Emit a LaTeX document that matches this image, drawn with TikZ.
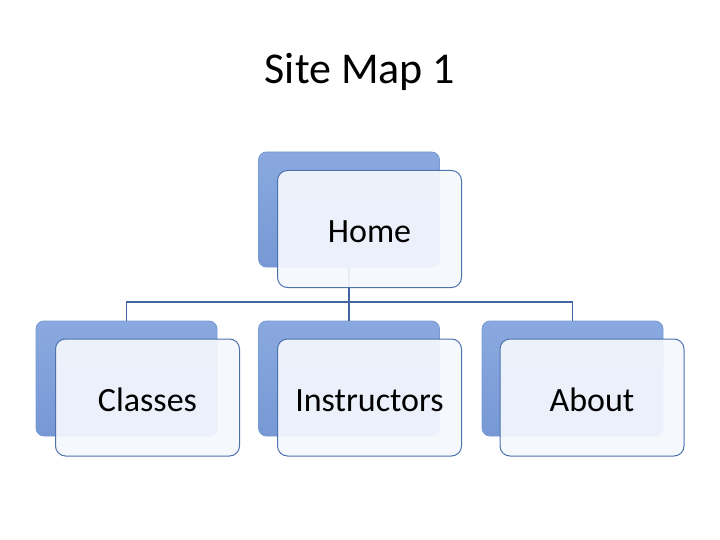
\documentclass[tikz,border=0pt]{standalone}
\usepackage{fontspec}
\setmainfont{Carlito}
\definecolor{backtop}{HTML}{8AA9E0}
\definecolor{backbot}{HTML}{7698D4}
\definecolor{backedge}{HTML}{7899D3}
\definecolor{frontfill}{HTML}{F4F7FD}
\definecolor{frontedge}{HTML}{4E72AE}
\definecolor{linkcol}{HTML}{42669F}
\tikzset{
  backbox/.style={draw=backedge, line width=0.8pt, top color=backtop, bottom color=backbot,
    rounded corners=8pt, minimum width=181pt, minimum height=115pt, inner sep=0pt},
  frontbox/.style={draw=frontedge, line width=1pt, fill=frontfill, fill opacity=0.93, text opacity=1,
    rounded corners=10pt, minimum width=184pt, minimum height=117pt, inner sep=0pt,
    text height=30pt, text depth=2pt,
    font=\fontsize{34}{40}\selectfont},
  link/.style={draw=linkcol, line width=1.5pt},
  titlestyle/.style={font=\fontsize{44}{50}\selectfont, inner sep=0pt}
}
\begin{document}
\begin{tikzpicture}[x=1pt,y=-1pt]
\useasboundingbox (0,0) rectangle (720,540);
\node[titlestyle] (title) at (360,72) {Site Map 1};
% back boxes
\node[backbox] (hb) at (349,209.5) {};
\node[backbox] (cb) at (126.5,378.5) {};
\node[backbox] (ib) at (349,378.5) {};
\node[backbox] (ab) at (572.5,378.5) {};
% connectors
\coordinate (bus) at (349,302);
\draw[link] (hb.south) -- (bus);
\draw[link] (cb.north) |- (bus) -| (ab.north);
\draw[link] (bus) -- (ib.north);
% front boxes
\node[frontbox] (home) at (369.5,229) {Home};
\node[frontbox] (classes) at (147.5,397.5) {Classes};
\node[frontbox] (instr) at (369.5,397.5) {Instructors};
\node[frontbox] (about) at (592,397.5) {About};
\end{tikzpicture}
\end{document}
